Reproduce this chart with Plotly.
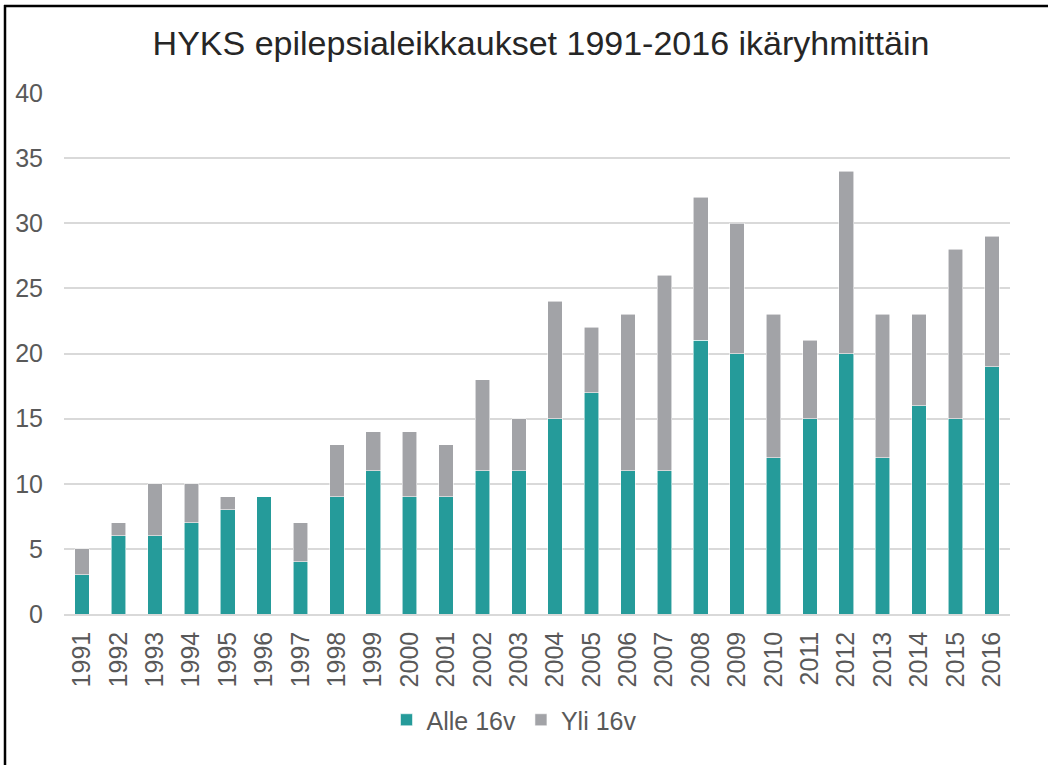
import plotly.graph_objects as go

years = [str(y) for y in range(1991, 2017)]
alle_16v = [3, 6, 6, 7, 8, 9, 4, 9, 11, 9, 9, 11, 11, 15, 17, 11, 11, 21, 20, 12, 15, 20, 12, 16, 15, 19]
totals = [5, 7, 10, 10, 9, 9, 7, 13, 14, 14, 13, 18, 15, 24, 22, 23, 26, 32, 30, 23, 21, 34, 23, 23, 28, 29]
yli_16v = [t - a for t, a in zip(totals, alle_16v)]
y_ticks = [0, 5, 10, 15, 20, 25, 30, 35, 40]

TEAL = "#259B9A"
GRAY = "#A2A3A7"
FONT = "Liberation Sans, Arial, sans-serif"

fig = go.Figure()
fig.add_trace(go.Bar(x=years, y=alle_16v, name="Alle 16v",
                     marker=dict(color=TEAL, line=dict(width=0.8, color="rgba(255,255,255,0.7)"))))
fig.add_trace(go.Bar(x=years, y=yli_16v, name="Yli 16v",
                     marker=dict(color=GRAY, line=dict(width=0.8, color="rgba(255,255,255,0.7)"))))

L, R, T, B = 64, 38, 93, 151
W, H = 1048, 765
pw, ph = W - L - R, H - T - B

def px_x(p):
    return (p - L) / pw

def px_y(p):
    return (H - B - p) / ph

fig.update_layout(
    barmode="stack",
    bargap=0.6,
    width=W, height=H,
    margin=dict(l=L, r=R, t=T, b=B),
    paper_bgcolor="white",
    plot_bgcolor="white",
    font=dict(family=FONT, color="#595959", size=25),
    title=dict(text="HYKS epilepsialeikkaukset 1991-2016 ikäryhmittäin",
               x=px_x(541), xref="paper", xanchor="center",
               y=1 - 43 / H, yanchor="middle",
               font=dict(family=FONT, size=34, color="#262626")),
    xaxis=dict(type="category", tickangle=-90, showgrid=False,
               showline=True, linecolor="#D9D9D9", linewidth=1.5,
               ticks="", ticklabelstandoff=6,
               tickfont=dict(size=25, color="#595959")),
    yaxis=dict(range=[0, 40], tickvals=y_ticks, showgrid=True,
               gridcolor="#D9D9D9", gridwidth=1.5, zeroline=False,
               showline=False, ticks="", ticklabelstandoff=20,
               tickfont=dict(size=25, color="#595959")),
    legend=dict(orientation="h", x=px_x(514), xanchor="center",
                y=px_y(720), yanchor="middle",
                font=dict(size=25, color="#595959"),
                itemwidth=30, traceorder="normal"),
    shapes=[
        dict(type="line", xref="paper", yref="paper",
             x0=px_x(5), x1=px_x(5), y0=px_y(5), y1=px_y(766),
             line=dict(color="black", width=2.5)),
        dict(type="line", xref="paper", yref="paper",
             x0=px_x(4), x1=px_x(1049), y0=px_y(6), y1=px_y(6),
             line=dict(color="black", width=2.5)),
    ],
)

fig.write_html("out.html", config={"displayModeBar": False},
               post_script="document.body.style.margin='0';document.body.style.overflow='hidden';")
